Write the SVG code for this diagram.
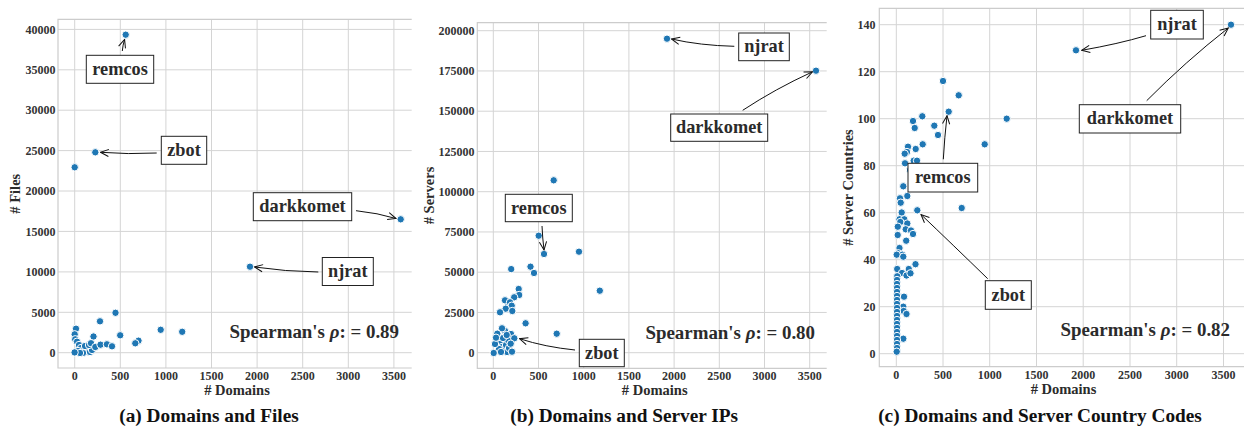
<svg xmlns="http://www.w3.org/2000/svg" width="1244" height="429" viewBox="0 0 1244 429">
<style>
text{font-family:"Liberation Serif","Times New Roman",serif;font-weight:bold;}
.grid line{stroke:#d4d4d4;stroke-width:1;}
.spine{stroke:#cccccc;stroke-width:1.2;fill:none;}
.tick{font-size:12px;fill:#333333;}
.ty{text-anchor:end;}
.tx{text-anchor:middle;}
.axl{font-size:14.5px;fill:#2b2b2b;text-anchor:middle;}
.cap{font-size:19.3px;fill:#111;text-anchor:middle;}
.sp{font-size:18.9px;fill:#2b2b2b;text-anchor:end;}
.pts circle{fill:#1f77b4;stroke:#ffffff;stroke-width:1;r:3.7px;}
.box rect{fill:#ffffff;stroke:#222;stroke-width:1;}
.box text{font-size:18.3px;fill:#2b2b2b;text-anchor:middle;}
.conn path{fill:none;stroke:#111;stroke-width:1;marker-end:url(#ah);}
</style>
<defs>
<marker id="ah" markerUnits="userSpaceOnUse" markerWidth="10" markerHeight="10" viewBox="0 0 10 10" refX="9.2" refY="5" orient="auto">
<path d="M1,1.4 L9.2,5 L1,8.6" fill="none" stroke="#111" stroke-width="1"/>
</marker>
</defs>
<rect width="1244" height="429" fill="#ffffff"/>

<!-- Panel A -->
<g id="panel-a">
<g class="grid">
<line x1="74.7" y1="19.3" x2="74.7" y2="368"/><line x1="120.3" y1="19.3" x2="120.3" y2="368"/><line x1="165.9" y1="19.3" x2="165.9" y2="368"/><line x1="211.5" y1="19.3" x2="211.5" y2="368"/><line x1="257.1" y1="19.3" x2="257.1" y2="368"/><line x1="302.7" y1="19.3" x2="302.7" y2="368"/><line x1="348.3" y1="19.3" x2="348.3" y2="368"/><line x1="393.9" y1="19.3" x2="393.9" y2="368"/>
<line x1="58" y1="352.7" x2="411.7" y2="352.7"/><line x1="58" y1="312.3" x2="411.7" y2="312.3"/><line x1="58" y1="271.9" x2="411.7" y2="271.9"/><line x1="58" y1="231.4" x2="411.7" y2="231.4"/><line x1="58" y1="191" x2="411.7" y2="191"/><line x1="58" y1="150.6" x2="411.7" y2="150.6"/><line x1="58" y1="110.2" x2="411.7" y2="110.2"/><line x1="58" y1="69.8" x2="411.7" y2="69.8"/><line x1="58" y1="29.4" x2="411.7" y2="29.4"/>
</g>
<path class="spine" d="M411.7,19.3 H58 V368 H411.7"/>
<g class="tick ty">
<text x="55.5" y="356.9">0</text><text x="55.5" y="316.5">5000</text><text x="55.5" y="276.1">10000</text><text x="55.5" y="235.6">15000</text><text x="55.5" y="195.2">20000</text><text x="55.5" y="154.8">25000</text><text x="55.5" y="114.4">30000</text><text x="55.5" y="74">35000</text><text x="55.5" y="33.6">40000</text>
</g>
<g class="tick tx">
<text x="74.7" y="380">0</text><text x="120.3" y="380">500</text><text x="165.9" y="380">1000</text><text x="211.5" y="380">1500</text><text x="257.1" y="380">2000</text><text x="302.7" y="380">2500</text><text x="348.3" y="380">3000</text><text x="393.9" y="380">3500</text>
</g>
<text class="axl" x="237" y="394.5"># Domains</text>
<text class="axl" transform="translate(19.5,193.7) rotate(-90)"># Files</text>
<g class="pts">
<circle cx="125.7" cy="34.7"/><circle cx="95.3" cy="152.3"/><circle cx="74.7" cy="167.3"/><circle cx="400.7" cy="219.3"/><circle cx="250" cy="266.7"/>
<circle cx="115.5" cy="312.8"/><circle cx="100" cy="321.3"/><circle cx="76" cy="328.7"/><circle cx="74.7" cy="334.3"/><circle cx="93.5" cy="336.5"/><circle cx="120.2" cy="335.3"/><circle cx="160.7" cy="329.8"/><circle cx="182.2" cy="331.8"/><circle cx="138.5" cy="340.7"/><circle cx="135.3" cy="343.3"/><circle cx="75.2" cy="339.3"/><circle cx="77" cy="341.7"/>
<circle cx="79" cy="345"/><circle cx="81" cy="348"/><circle cx="84" cy="350"/><circle cx="78" cy="351"/><circle cx="86" cy="352"/><circle cx="88" cy="349"/><circle cx="90" cy="352"/><circle cx="83" cy="353"/><circle cx="80" cy="353"/><circle cx="92" cy="350"/><circle cx="85" cy="346"/><circle cx="89" cy="345"/>
<circle cx="91" cy="343.2"/><circle cx="95.3" cy="347"/><circle cx="100.5" cy="344.7"/><circle cx="106.9" cy="344.3"/><circle cx="112" cy="346.3"/><circle cx="74.6" cy="352.4"/>
</g>
<text class="sp" x="399" y="338.3">Spearman's <tspan font-style="italic">ρ</tspan>: = 0.89</text>
<text class="cap" x="209" y="421.5">(a) Domains and Files</text>
</g>
<g id="a-remcos" class="box"><rect x="86.3" y="55.3" width="67.4" height="28"/><text x="120" y="74.8">remcos</text></g>
<g id="a-zbot" class="box"><rect x="161.3" y="136.3" width="45.4" height="28"/><text x="184" y="155.8">zbot</text></g>
<g id="a-darkkomet" class="box"><rect x="253.3" y="192.7" width="98.4" height="28"/><text x="302.5" y="212.2">darkkomet</text></g>
<g id="a-njrat" class="box"><rect x="322.3" y="257.5" width="51" height="28"/><text x="347.8" y="277">njrat</text></g>

<!-- Panel B -->
<g id="panel-b">
<g class="grid">
<line x1="493.3" y1="22.7" x2="493.3" y2="368.3"/><line x1="538.5" y1="22.7" x2="538.5" y2="368.3"/><line x1="583.7" y1="22.7" x2="583.7" y2="368.3"/><line x1="628.9" y1="22.7" x2="628.9" y2="368.3"/><line x1="674.1" y1="22.7" x2="674.1" y2="368.3"/><line x1="719.3" y1="22.7" x2="719.3" y2="368.3"/><line x1="764.5" y1="22.7" x2="764.5" y2="368.3"/><line x1="809.7" y1="22.7" x2="809.7" y2="368.3"/>
<line x1="477.3" y1="352.7" x2="826.7" y2="352.7"/><line x1="477.3" y1="312.45" x2="826.7" y2="312.45"/><line x1="477.3" y1="272.2" x2="826.7" y2="272.2"/><line x1="477.3" y1="231.95" x2="826.7" y2="231.95"/><line x1="477.3" y1="191.7" x2="826.7" y2="191.7"/><line x1="477.3" y1="151.45" x2="826.7" y2="151.45"/><line x1="477.3" y1="111.2" x2="826.7" y2="111.2"/><line x1="477.3" y1="70.95" x2="826.7" y2="70.95"/><line x1="477.3" y1="30.7" x2="826.7" y2="30.7"/>
</g>
<path class="spine" d="M826.7,22.7 H477.3 V368.3 H826.7"/>
<g class="tick ty">
<text x="474.5" y="356.9">0</text><text x="474.5" y="316.6">25000</text><text x="474.5" y="276.4">50000</text><text x="474.5" y="236.1">75000</text><text x="474.5" y="195.9">100000</text><text x="474.5" y="155.6">125000</text><text x="474.5" y="115.4">150000</text><text x="474.5" y="75.1">175000</text><text x="474.5" y="34.9">200000</text>
</g>
<g class="tick tx">
<text x="493.3" y="380">0</text><text x="538.5" y="380">500</text><text x="583.7" y="380">1000</text><text x="628.9" y="380">1500</text><text x="674.1" y="380">2000</text><text x="719.3" y="380">2500</text><text x="764.5" y="380">3000</text><text x="809.7" y="380">3500</text>
</g>
<text class="axl" x="654.7" y="394.5"># Domains</text>
<text class="axl" transform="translate(433.5,195.5) rotate(-90)"># Servers</text>
<g class="pts">
<circle cx="667" cy="38.7"/><circle cx="816" cy="70.7"/><circle cx="553.7" cy="180.3"/>
<circle cx="538.7" cy="235.7"/><circle cx="544" cy="254"/><circle cx="579" cy="251.7"/><circle cx="511.2" cy="269.1"/><circle cx="530.5" cy="266.7"/><circle cx="534" cy="273"/><circle cx="599.8" cy="290.7"/>
<circle cx="518.7" cy="289"/><circle cx="519.2" cy="295"/><circle cx="514.2" cy="297.3"/><circle cx="508" cy="304"/><circle cx="505" cy="300.3"/><circle cx="510" cy="302.3"/><circle cx="511.7" cy="305.7"/><circle cx="505.7" cy="308.7"/><circle cx="500" cy="312.3"/><circle cx="512.3" cy="311"/>
<circle cx="525.6" cy="323.3"/><circle cx="556.7" cy="333.7"/>
<circle cx="505" cy="331"/><circle cx="511" cy="334"/><circle cx="498" cy="340"/><circle cx="500" cy="344"/><circle cx="502" cy="347"/><circle cx="504" cy="350"/><circle cx="506" cy="345"/><circle cx="508" cy="340"/><circle cx="499" cy="349"/><circle cx="503" cy="338"/><circle cx="507" cy="352"/><circle cx="495" cy="344"/><circle cx="501" cy="352"/><circle cx="509" cy="348"/>
<circle cx="502" cy="328.3"/><circle cx="497.3" cy="333.7"/><circle cx="496" cy="337.7"/><circle cx="506.7" cy="335"/><circle cx="514.3" cy="338.3"/><circle cx="510.7" cy="343.7"/><circle cx="512" cy="351.7"/><circle cx="493.7" cy="353"/>
</g>
<text class="sp" x="815" y="339.3">Spearman's <tspan font-style="italic">ρ</tspan>: = 0.80</text>
<text class="cap" x="624.2" y="421.5">(b) Domains and Server IPs</text>
</g>
<g id="b-njrat" class="box"><rect x="738.7" y="33" width="50.6" height="27.7"/><text x="764" y="52.3">njrat</text></g>
<g id="b-darkkomet" class="box"><rect x="670.7" y="114" width="97" height="27.3"/><text x="719.2" y="133.2">darkkomet</text></g>
<g id="b-remcos" class="box"><rect x="505.3" y="194.3" width="67" height="27.4"/><text x="538.8" y="213.5">remcos</text></g>
<g id="b-zbot" class="box"><rect x="579.3" y="339.3" width="45" height="27.4"/><text x="601.8" y="358.5">zbot</text></g>

<!-- Panel C -->
<g id="panel-c">
<g class="grid">
<line x1="896.3" y1="8.3" x2="896.3" y2="366.7"/><line x1="943" y1="8.3" x2="943" y2="366.7"/><line x1="989.7" y1="8.3" x2="989.7" y2="366.7"/><line x1="1036.5" y1="8.3" x2="1036.5" y2="366.7"/><line x1="1083.2" y1="8.3" x2="1083.2" y2="366.7"/><line x1="1130" y1="8.3" x2="1130" y2="366.7"/><line x1="1176.7" y1="8.3" x2="1176.7" y2="366.7"/><line x1="1223.5" y1="8.3" x2="1223.5" y2="366.7"/>
<line x1="879.3" y1="353.7" x2="1244" y2="353.7"/><line x1="879.3" y1="306.7" x2="1244" y2="306.7"/><line x1="879.3" y1="259.7" x2="1244" y2="259.7"/><line x1="879.3" y1="212.7" x2="1244" y2="212.7"/><line x1="879.3" y1="165.7" x2="1244" y2="165.7"/><line x1="879.3" y1="118.7" x2="1244" y2="118.7"/><line x1="879.3" y1="71.7" x2="1244" y2="71.7"/><line x1="879.3" y1="24.7" x2="1244" y2="24.7"/>
</g>
<path class="spine" d="M1244,8.3 H879.3 V366.7 H1244"/>
<g class="tick ty">
<text x="875.5" y="357.9">0</text><text x="875.5" y="310.9">20</text><text x="875.5" y="263.9">40</text><text x="875.5" y="216.9">60</text><text x="875.5" y="169.9">80</text><text x="875.5" y="122.9">100</text><text x="875.5" y="75.9">120</text><text x="875.5" y="28.9">140</text>
</g>
<g class="tick tx">
<text x="896.3" y="379">0</text><text x="943" y="379">500</text><text x="989.7" y="379">1000</text><text x="1036.5" y="379">1500</text><text x="1083.2" y="379">2000</text><text x="1130" y="379">2500</text><text x="1176.7" y="379">3000</text><text x="1223.5" y="379">3500</text>
</g>
<text class="axl" x="1063.5" y="394.3"># Domains</text>
<text class="axl" transform="translate(852.5,187.5) rotate(-90)"># Server Countries</text>
<g class="pts">
<circle cx="1076" cy="50.3"/><circle cx="1231" cy="24.7"/><circle cx="943" cy="81"/><circle cx="958.7" cy="95.3"/><circle cx="948.7" cy="111.7"/><circle cx="1006.7" cy="118.7"/><circle cx="922.3" cy="116.3"/><circle cx="913" cy="121"/><circle cx="934.3" cy="125.7"/><circle cx="914.7" cy="128"/><circle cx="938" cy="135"/><circle cx="984.7" cy="144.3"/><circle cx="922.7" cy="144.3"/><circle cx="908" cy="146.7"/><circle cx="915.7" cy="149"/><circle cx="907" cy="152"/><circle cx="904.7" cy="153.7"/><circle cx="913.7" cy="160.7"/><circle cx="917" cy="160.7"/><circle cx="905" cy="163.3"/><circle cx="910" cy="170"/>
<circle cx="903.3" cy="186.3"/><circle cx="907.3" cy="196"/><circle cx="900" cy="198.3"/><circle cx="900.7" cy="202.7"/><circle cx="961.7" cy="208"/><circle cx="917.3" cy="210.3"/><circle cx="901.7" cy="212.5"/><circle cx="899.5" cy="219.3"/><circle cx="904.3" cy="219.3"/><circle cx="900.3" cy="222"/><circle cx="907.3" cy="223.5"/><circle cx="897.8" cy="226.7"/><circle cx="905.7" cy="229.3"/><circle cx="911" cy="230.5"/><circle cx="913" cy="234"/><circle cx="897.7" cy="235"/><circle cx="906.2" cy="240.7"/>
<circle cx="899.5" cy="248"/><circle cx="898.3" cy="253.3"/><circle cx="902.3" cy="254.7"/><circle cx="896.7" cy="254.7"/><circle cx="903.3" cy="256.7"/><circle cx="915.5" cy="264.2"/><circle cx="897.2" cy="269"/><circle cx="908.8" cy="269"/><circle cx="902" cy="273"/><circle cx="906.5" cy="275.5"/><circle cx="910.5" cy="273.3"/><circle cx="897.2" cy="276.3"/>
<circle cx="897" cy="280"/><circle cx="897" cy="284"/><circle cx="897" cy="288"/><circle cx="897" cy="292"/><circle cx="904" cy="296.7"/><circle cx="897" cy="296"/><circle cx="897" cy="300"/><circle cx="897" cy="304"/><circle cx="903.3" cy="306.7"/><circle cx="897" cy="308"/><circle cx="903.7" cy="311"/><circle cx="897" cy="312"/><circle cx="906.5" cy="314"/><circle cx="897" cy="316"/><circle cx="897" cy="320"/><circle cx="897" cy="324"/><circle cx="897" cy="328"/><circle cx="897" cy="332"/><circle cx="897" cy="336"/><circle cx="903.3" cy="338.7"/><circle cx="897" cy="340"/><circle cx="897" cy="344"/><circle cx="897" cy="348"/><circle cx="896.7" cy="351.7"/>
</g>
<text class="sp" x="1230" y="336">Spearman's <tspan font-style="italic">ρ</tspan>: = 0.82</text>
<text class="cap" x="1040" y="421.5">(c) Domains and Server Country Codes</text>
</g>
<g id="c-njrat" class="box"><rect x="1150.7" y="10.3" width="52.6" height="28.7"/><text x="1177" y="30.2">njrat</text></g>
<g id="c-darkkomet" class="box"><rect x="1079.3" y="104.7" width="101.4" height="28.3"/><text x="1130" y="124.3">darkkomet</text></g>
<g id="c-remcos" class="box"><rect x="908" y="163.3" width="69.7" height="28.7"/><text x="942.8" y="183.2">remcos</text></g>
<g id="c-zbot" class="box"><rect x="985.3" y="280.7" width="46" height="28.6"/><text x="1008.3" y="300.5">zbot</text></g>

<g id="connectors" class="conn">
<path d="M122.3,51 Q122.8,45 124.6,39.5"/>
<path d="M156.7,153 Q128,154.5 100.5,152.3"/>
<path d="M356,210.7 Q378,213 396,218.5"/>
<path d="M318.3,272 Q285,271.5 254.5,267"/>
<path d="M542,226 Q542.5,238 544,250"/>
<path d="M575,350 Q545,347 519.5,338.7"/>
<path d="M734.3,46.3 Q700,45.5 671.5,39"/>
<path d="M742.7,110.3 Q775,89 812.5,71.8"/>
<path d="M1146,35.7 Q1118,44 1081.7,50.3"/>
<path d="M1146.7,100.7 Q1185,62 1228.3,28"/>
<path d="M943.3,159.3 Q944.5,138 947,115.7"/>
<path d="M987.7,278.7 Q952,244 921,214.5"/>
</g>
</svg>
